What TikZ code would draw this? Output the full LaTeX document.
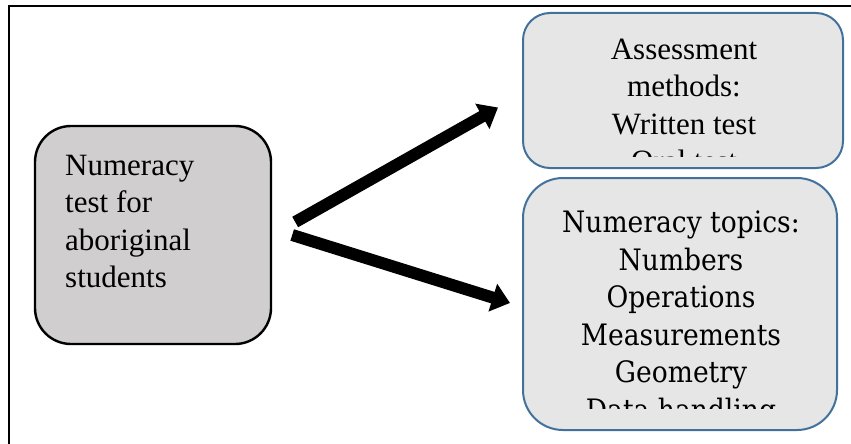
\documentclass[tikz,border=0pt]{standalone}
\usepackage{fontspec}
\setmainfont{Liberation Serif}
\newfontfamily\topicfont[FakeStretch=0.9]{DejaVu Serif}
\usepackage{tikz}
\usetikzlibrary{positioning,arrows.meta}

\definecolor{boxblue}{HTML}{41719C}
\definecolor{testgray}{HTML}{D0CECE}
\definecolor{listgray}{HTML}{E7E6E6}

\tikzset{
  testbox/.style={draw=black, fill=testgray, line width=2.4pt, rounded corners=36pt},
  listbox/.style={draw=boxblue, fill=listgray, line width=2pt},
  bigarrow/.style={line width=12pt, -{Triangle[length=18pt,width=28pt]}},
  wordtext/.style={inner sep=0pt, font=\fontsize{31}{37.3}\selectfont},
  topictext/.style={inner sep=0pt, font=\topicfont\fontsize{29.5}{37.5}\selectfont}
}

\begin{document}
\begin{tikzpicture}[x=1pt,y=-1pt]
  \useasboundingbox (0,0) rectangle (851,444);
  \clip (0,0) rectangle (851,444);

  % frame
  \draw[line width=2.6pt] (9,470) -- (9,6) -- (880,6);

  \node[testbox, minimum width=236pt, minimum height=218pt] (test) at (153,235) {};
  \node[listbox, rounded corners=27pt, minimum width=320pt, minimum height=155pt] (methods) at (683,90.5) {};
  \node[listbox, rounded corners=40pt, minimum width=314pt, minimum height=252pt] (topics) at (680,304) {};

  \node[wordtext, anchor=north west, align=left] (testtext) at (65,155)
    {Numeracy\\test for\\aboriginal\\students};

  \begin{scope}
    \clip (526,16) rectangle (840,156);
    \node[wordtext, anchor=north, align=center] (methodstext) at (684,39)
      {Assessment\\methods:\\Written test\\Oral test};
  \end{scope}

  \begin{scope}
    \clip (526,181) rectangle (834,408);
    \node[topictext, anchor=north, align=center] (topicstext) at (681,211)
      {Numeracy topics:\\Numbers\\Operations\\Measurements\\Geometry\\Data handling};
  \end{scope}

  %test>methods
  \draw[bigarrow] ([xshift=23pt,yshift=13pt]test.east) -- ([xshift=-24pt,yshift=-17pt]methods.west);
  %test>topics
  \draw[bigarrow] ([xshift=20pt]test.east) -- ([xshift=-12pt,yshift=1pt]topics.west);
\end{tikzpicture}
\end{document}
